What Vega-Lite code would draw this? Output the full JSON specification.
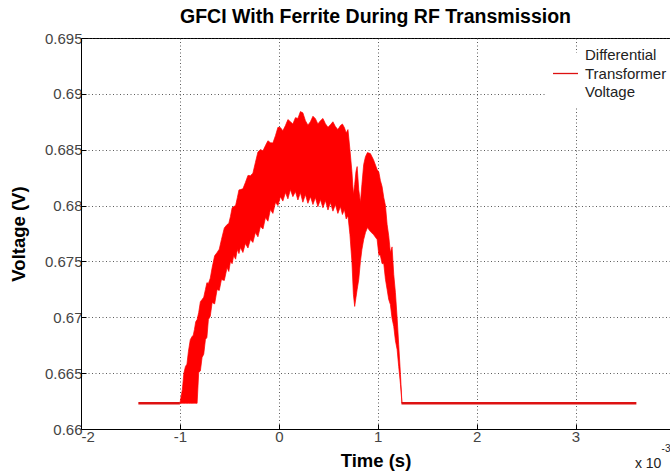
{
  "$schema": "https://vega.github.io/schema/vega-lite/v6.json",
  "width": 589,
  "height": 391,
  "autosize": {"type": "none"},
  "padding": {"left": 81, "top": 38, "right": 0, "bottom": 47},
  "background": "white",
  "title": {"text": "GFCI With Ferrite During RF Transmission", "font": "Liberation Sans", "fontSize": 19.5, "fontWeight": "bold", "color": "#000", "offset": 4, "anchor": "middle"},
  "config": {
    "view": {"stroke": "#000", "strokeWidth": 1},
    "axis": {"labelFont": "Liberation Sans", "labelFontSize": 15, "labelColor": "#444", "titleFont": "Liberation Sans", "titleFontSize": 18.5, "titleFontWeight": "bold", "titleColor": "#000", "domainColor": "#000", "tickColor": "#000", "gridColor": "#333", "gridDash": [1, 2.5], "gridOpacity": 0.8}
  },
  "datasets": {
    "band": [
      {"t": -1.000, "lo": 0.6623, "hi": 0.6623},
      {"t": -0.975, "lo": 0.6623, "hi": 0.66354},
      {"t": -0.960, "lo": 0.6623, "hi": 0.6650},
      {"t": -0.944, "lo": 0.6623, "hi": 0.66560},
      {"t": -0.929, "lo": 0.6623, "hi": 0.6658},
      {"t": -0.914, "lo": 0.6623, "hi": 0.66694},
      {"t": -0.895, "lo": 0.6623, "hi": 0.6680},
      {"t": -0.877, "lo": 0.6623, "hi": 0.66828},
      {"t": -0.865, "lo": 0.6623, "hi": 0.6684},
      {"t": -0.853, "lo": 0.6623, "hi": 0.66891},
      {"t": -0.840, "lo": 0.6623, "hi": 0.6696},
      {"t": -0.826, "lo": 0.6623, "hi": 0.66980},
      {"t": -0.810, "lo": 0.66506, "hi": 0.67043},
      {"t": -0.793, "lo": 0.6652, "hi": 0.6714},
      {"t": -0.776, "lo": 0.66640, "hi": 0.67159},
      {"t": -0.759, "lo": 0.6667, "hi": 0.6718},
      {"t": -0.742, "lo": 0.66801, "hi": 0.67249},
      {"t": -0.727, "lo": 0.6682, "hi": 0.6731},
      {"t": -0.712, "lo": 0.66980, "hi": 0.67302},
      {"t": -0.693, "lo": 0.6701, "hi": 0.6735},
      {"t": -0.674, "lo": 0.67132, "hi": 0.67445},
      {"t": -0.649, "lo": 0.6712, "hi": 0.6755},
      {"t": -0.624, "lo": 0.67249, "hi": 0.67580},
      {"t": -0.602, "lo": 0.6724, "hi": 0.6761},
      {"t": -0.580, "lo": 0.67338, "hi": 0.67696},
      {"t": -0.551, "lo": 0.6733, "hi": 0.6780},
      {"t": -0.523, "lo": 0.67445, "hi": 0.67830},
      {"t": -0.506, "lo": 0.6741, "hi": 0.6784},
      {"t": -0.489, "lo": 0.67499, "hi": 0.67902},
      {"t": -0.472, "lo": 0.6748, "hi": 0.6798},
      {"t": -0.456, "lo": 0.67553, "hi": 0.67991},
      {"t": -0.437, "lo": 0.6752, "hi": 0.6800},
      {"t": -0.419, "lo": 0.67606, "hi": 0.68072},
      {"t": -0.403, "lo": 0.6757, "hi": 0.6814},
      {"t": -0.388, "lo": 0.67624, "hi": 0.68143},
      {"t": -0.363, "lo": 0.6758, "hi": 0.6815},
      {"t": -0.338, "lo": 0.67660, "hi": 0.68206},
      {"t": -0.312, "lo": 0.6762, "hi": 0.6827},
      {"t": -0.287, "lo": 0.67696, "hi": 0.68268},
      {"t": -0.262, "lo": 0.6767, "hi": 0.6829},
      {"t": -0.237, "lo": 0.67758, "hi": 0.68385},
      {"t": -0.211, "lo": 0.6772, "hi": 0.6848},
      {"t": -0.186, "lo": 0.67812, "hi": 0.68501},
      {"t": -0.160, "lo": 0.6779, "hi": 0.6849},
      {"t": -0.135, "lo": 0.67893, "hi": 0.68537},
      {"t": -0.110, "lo": 0.6786, "hi": 0.6858},
      {"t": -0.085, "lo": 0.67964, "hi": 0.68563},
      {"t": -0.060, "lo": 0.6793, "hi": 0.6856},
      {"t": -0.034, "lo": 0.68027, "hi": 0.68626},
      {"t": -0.009, "lo": 0.6800, "hi": 0.6870},
      {"t": 0.016, "lo": 0.68080, "hi": 0.68698},
      {"t": 0.041, "lo": 0.6804, "hi": 0.6867},
      {"t": 0.067, "lo": 0.68116, "hi": 0.68716},
      {"t": 0.092, "lo": 0.6806, "hi": 0.6877},
      {"t": 0.117, "lo": 0.68143, "hi": 0.68751},
      {"t": 0.142, "lo": 0.6808, "hi": 0.6873},
      {"t": 0.168, "lo": 0.68125, "hi": 0.68787},
      {"t": 0.193, "lo": 0.6805, "hi": 0.6878},
      {"t": 0.218, "lo": 0.68116, "hi": 0.68841},
      {"t": 0.243, "lo": 0.6803, "hi": 0.6883},
      {"t": 0.269, "lo": 0.68098, "hi": 0.68760},
      {"t": 0.294, "lo": 0.6802, "hi": 0.6872},
      {"t": 0.320, "lo": 0.68080, "hi": 0.68751},
      {"t": 0.345, "lo": 0.6801, "hi": 0.6880},
      {"t": 0.370, "lo": 0.68072, "hi": 0.68778},
      {"t": 0.395, "lo": 0.6799, "hi": 0.6873},
      {"t": 0.421, "lo": 0.68054, "hi": 0.68760},
      {"t": 0.446, "lo": 0.6798, "hi": 0.6878},
      {"t": 0.471, "lo": 0.68045, "hi": 0.68733},
      {"t": 0.497, "lo": 0.6796, "hi": 0.6870},
      {"t": 0.522, "lo": 0.68027, "hi": 0.68724},
      {"t": 0.547, "lo": 0.6795, "hi": 0.6875},
      {"t": 0.572, "lo": 0.68009, "hi": 0.68707},
      {"t": 0.597, "lo": 0.6793, "hi": 0.6868},
      {"t": 0.623, "lo": 0.67991, "hi": 0.68716},
      {"t": 0.643, "lo": 0.6792, "hi": 0.6873},
      {"t": 0.663, "lo": 0.67964, "hi": 0.68698},
      {"t": 0.681, "lo": 0.6788, "hi": 0.6865},
      {"t": 0.699, "lo": 0.67910, "hi": 0.68680},
      {"t": 0.719, "lo": 0.67741, "hi": 0.68501},
      {"t": 0.739, "lo": 0.67499, "hi": 0.68304},
      {"t": 0.754, "lo": 0.67204, "hi": 0.68098},
      {"t": 0.767, "lo": 0.67097, "hi": 0.68188},
      {"t": 0.780, "lo": 0.67177, "hi": 0.68304},
      {"t": 0.792, "lo": 0.67249, "hi": 0.68349},
      {"t": 0.808, "lo": 0.67338, "hi": 0.68143},
      {"t": 0.825, "lo": 0.67499, "hi": 0.68027},
      {"t": 0.840, "lo": 0.67606, "hi": 0.68188},
      {"t": 0.858, "lo": 0.67696, "hi": 0.68367},
      {"t": 0.876, "lo": 0.67758, "hi": 0.68438},
      {"t": 0.896, "lo": 0.67803, "hi": 0.68474},
      {"t": 0.926, "lo": 0.67767, "hi": 0.68465},
      {"t": 0.957, "lo": 0.67741, "hi": 0.68411},
      {"t": 0.994, "lo": 0.67696, "hi": 0.68322},
      {"t": 1.011, "lo": 0.6756, "hi": 0.6830},
      {"t": 1.027, "lo": 0.67553, "hi": 0.68224},
      {"t": 1.044, "lo": 0.6748, "hi": 0.6817},
      {"t": 1.061, "lo": 0.67481, "hi": 0.68072},
      {"t": 1.078, "lo": 0.6734, "hi": 0.6800},
      {"t": 1.095, "lo": 0.67249, "hi": 0.67830},
      {"t": 1.111, "lo": 0.6716, "hi": 0.6773},
      {"t": 1.128, "lo": 0.67114, "hi": 0.67580},
      {"t": 1.145, "lo": 0.6699, "hi": 0.6763},
      {"t": 1.162, "lo": 0.66918, "hi": 0.67383},
      {"t": 1.179, "lo": 0.6679, "hi": 0.6722},
      {"t": 1.196, "lo": 0.66712, "hi": 0.66998},
      {"t": 1.212, "lo": 0.66560, "hi": 0.66757},
      {"t": 1.230, "lo": 0.66399, "hi": 0.66488},
      {"t": 1.245, "lo": 0.6623, "hi": 0.6623}
    ],
    "base": [
      {"seg": "a", "t": -1.42, "v": 0.6623, "series": "Differential Transformer Voltage"},
      {"seg": "a", "t": -1.0, "v": 0.6623, "series": "Differential Transformer Voltage"},
      {"seg": "b", "t": 1.24, "v": 0.6623, "series": "Differential Transformer Voltage"},
      {"seg": "b", "t": 3.615, "v": 0.6623, "series": "Differential Transformer Voltage"}
    ],
    "mult": [{"t": 3.6, "v": 0.6569, "txt": "x 10"}],
    "expo": [{"t": 3.87, "v": 0.6582, "txt": "-3"}]
  },
  "layer": [
    {
      "data": {"name": "band"},
      "mark": {"type": "area", "color": "#ff0000", "stroke": "#ff0000", "strokeWidth": 0.7},
      "encoding": {
        "x": {"field": "t", "type": "quantitative", "title": "Time (s)",
          "scale": {"domain": [-2, 3.955], "nice": false, "zero": false},
          "axis": {"values": [-2, -1, 0, 1, 2, 3], "labelExpr": "datum.value < 0 ? '-' + abs(datum.value) : '' + datum.value", "grid": true, "tickSize": -5, "labelPadding": 5, "titlePadding": 7}},
        "y": {"field": "lo", "type": "quantitative", "title": "Voltage (V)",
          "scale": {"domain": [0.66, 0.695], "nice": false, "zero": false},
          "axis": {"values": [0.66, 0.665, 0.67, 0.675, 0.68, 0.685, 0.69, 0.695], "labelExpr": "'' + datum.value", "grid": true, "tickSize": -5, "labelPadding": 4, "titlePadding": 16}},
        "y2": {"field": "hi"}
      }
    },
    {
      "data": {"name": "base"},
      "mark": {"type": "line", "strokeWidth": 2.5},
      "encoding": {
        "x": {"field": "t", "type": "quantitative", "title": "Time (s)"},
        "y": {"field": "v", "type": "quantitative", "title": "Voltage (V)"},
        "detail": {"field": "seg"},
        "color": {"field": "series", "type": "nominal", "scale": {"range": ["#dd1111"]},
          "legend": {"orient": "none", "legendX": 464, "legendY": 15, "title": null, "fillColor": "white", "padding": 7, "symbolType": "stroke", "symbolSize": 625, "symbolStrokeWidth": 1.3, "labelExpr": "['Differential', 'Transformer', 'Voltage']", "labelFont": "Liberation Sans", "labelFontSize": 15, "labelColor": "#222", "labelLimit": 0, "labelOffset": 6,
            "encode": {"labels": {"update": {"dy": {"value": -18.5}, "lineHeight": {"value": 18.5}}}}}}
      }
    },
    {
      "data": {"name": "mult"},
      "mark": {"type": "text", "align": "left", "baseline": "middle", "font": "Liberation Sans", "fontSize": 14, "color": "#222"},
      "encoding": {
        "x": {"field": "t", "type": "quantitative", "title": "Time (s)"},
        "y": {"field": "v", "type": "quantitative", "title": "Voltage (V)"},
        "text": {"field": "txt"}
      }
    },
    {
      "data": {"name": "expo"},
      "mark": {"type": "text", "align": "left", "baseline": "middle", "font": "Liberation Sans", "fontSize": 10, "color": "#222"},
      "encoding": {
        "x": {"field": "t", "type": "quantitative", "title": "Time (s)"},
        "y": {"field": "v", "type": "quantitative", "title": "Voltage (V)"},
        "text": {"field": "txt"}
      }
    }
  ]
}
